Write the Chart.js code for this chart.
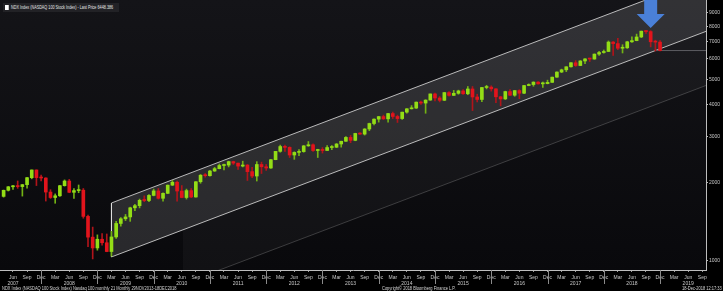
<!DOCTYPE html>
<html>
<head>
<meta charset="utf-8">
<script src="https://cdn.jsdelivr.net/npm/chart.js@4.4.1/dist/chart.umd.min.js"></script>
<style>
html, body { margin: 0; padding: 0; background: #000; }
#wrap { position: relative; width: 723px; height: 291px; overflow: hidden; font-family: "Liberation Sans Narrow", "Liberation Sans", Arial, sans-serif; }
#title { position: absolute; left: 3px; top: 3px; height: 9px; width: 116px; background: #222226; }
#title span { position: absolute; left: 2px; top: 0; color: #e6e6e6; font-size: 5px; line-height: 9px; white-space: nowrap; transform: scaleX(0.75); transform-origin: 0 0; }
#title i { display: inline-block; width: 5px; height: 5px; background: #fff; margin-right: 3px; vertical-align: -1px; }
.foot { position: absolute; top: 285px; color: #d8d8d8; font-size: 5px; line-height: 6px; white-space: nowrap; transform: scaleX(0.8); transform-origin: 0 0; }
</style>
</head>
<body>
<div id="wrap">
  <canvas id="chart" width="723" height="291"></canvas>
  <div id="title"><span><i></i>NDX Index (NASDAQ 100 Stock Index) - Last Price 6448.386</span></div>
  <div class="foot" style="left:2px">NDX Index (NASDAQ 100 Stock Index) Nasdaq 100.monthly 21 Monthly 29NOV2013-18DEC2018</div>
  <div class="foot" style="left:382px">Copyright&copy; 2018 Bloomberg Finance L.P.</div>
  <div class="foot" style="left:682px">18-Dec-2018 12:17:33</div>
</div>
<script>
// monthly candles, Apr 2007 .. Dec 2018 (x = 0 is Jun 2007)
var firstMonth = -2;
var opens = [1772,1870,1929,1934,1932,1966,2091,2239,2092,
  2085,1841,1754,1781,1948,2030,1837,1865,1872,1484,1235,1122,
  1212,1175,1087,1237,1394,1453,1477,1601,1632,1711,1708,1787,
  1860,1742,1820,1957,2008,1858,1754,1865,1762,2017,2137,2128,
  2218,2265,2329,2338,2411,2379,2317,2339,2206,2122,2350,2303,
  2278,2452,2640,2755,2735,2556,2616,2634,2772,2799,2660,2677,
  2661,2731,2738,2818,2887,2987,2910,3094,3076,3218,3378,3512,
  3592,3521,3690,3596,3530,3736,3849,3873,4083,4050,4158,4391,
  4236,4150,4444,4334,4415,4509,4397,4588,4274,4181,4648,4665,
  4593,4280,4201,4484,4341,4523,4418,4730,4771,4875,4801,4811,
  4864,5094,5330,5436,5584,5788,5647,5880,5988,5980,6248,6337,
  6396,6950,6856,6582,6605,6967,7040,7272,7657,7628,6968,6949];
var highs = [1874,1935,1955,2031,1970,2097,2239,2240,2140,
  2090,1880,1811,1952,2050,2060,1900,1960,1900,1500,1350,1260,
  1275,1270,1300,1420,1470,1510,1610,1650,1730,1780,1800,1890,
  1900,1830,1960,2040,2030,1950,1890,1900,2020,2150,2170,2230,
  2290,2360,2360,2420,2420,2380,2420,2350,2290,2410,2400,2350,
  2460,2640,2790,2790,2750,2630,2680,2780,2880,2820,2690,2730,
  2780,2780,2830,2890,3010,3040,3100,3120,3230,3390,3520,3600,
  3640,3700,3740,3640,3740,3860,3960,4090,4120,4170,4390,4420,
  4290,4450,4480,4530,4540,4560,4690,4690,4380,4650,4740,4720,
  4600,4300,4500,4560,4530,4560,4740,4800,4890,4900,4880,4960,
  5100,5340,5470,5590,5800,5900,5900,6000,6030,6260,6400,6480,
  7020,7000,7190,6790,7000,7280,7460,7660,7700,7690,7070,7050];
var lows = [1760,1858,1886,1903,1776,1905,2070,1950,2030,
  1700,1740,1667,1770,1940,1830,1740,1830,1460,1136,1018,1100,
  1150,1085,1043,1220,1360,1430,1420,1560,1600,1690,1690,1780,
  1730,1700,1815,1950,1700,1750,1730,1750,1760,1990,2100,2120,
  2210,2260,2240,2300,2350,2250,2300,2040,2090,2030,2170,2230,
  2270,2450,2620,2640,2500,2460,2540,2620,2760,2640,2500,2600,
  2660,2680,2730,2740,2880,2850,2900,3070,3050,3170,3340,3420,
  3500,3420,3530,3410,3500,3700,3840,3860,4000,3700,4150,4130,
  4090,4140,4300,4330,4380,4370,4360,3790,4090,4100,4590,4500,
  4060,3950,4180,4320,4300,4210,4400,4720,4700,4790,4650,4800,
  4860,5080,5300,5350,5560,5600,5640,5740,5850,5970,6180,6300,
  6390,6170,6500,6310,6570,6930,7030,7230,7510,6660,6420,6420];
var closes = [1870,1929,1934,1932,1966,2091,2239,2092,2085,
  1841,1754,1781,1948,2030,1837,1865,1872,1484,1235,1122,1212,
  1175,1087,1237,1394,1453,1477,1601,1632,1711,1708,1787,1860,
  1742,1820,1957,2008,1858,1754,1865,1762,2017,2137,2128,2218,
  2265,2329,2338,2411,2379,2317,2339,2206,2122,2350,2303,2278,
  2452,2640,2755,2735,2556,2616,2634,2772,2799,2660,2677,2661,
  2731,2738,2818,2887,2987,2910,3094,3076,3218,3378,3512,3592,
  3521,3690,3596,3530,3736,3849,3873,4083,4050,4158,4391,4236,
  4150,4444,4334,4415,4509,4397,4588,4274,4181,4648,4665,4593,
  4280,4201,4484,4341,4523,4418,4730,4771,4875,4801,4811,4864,
  5094,5330,5436,5584,5788,5647,5880,5988,5980,6248,6337,6396,
  6950,6856,6582,6605,6967,7040,7272,7657,7628,6968,6949,6448];

// trend channel (month x, value), drawn on the log scale
var channelTop = [[21, 1671], [148, 12400]];
var channelBottom = [[21, 1036], [148, 7667]];
var channelThird = [[21, 642], [148, 4747]];
var shadeFrom = 36.25;
var lastPrice = 6448.386;
var lastPriceFrom = 137;
var arrowMonth = 136;
var arrowTip = 7870;

var quarterNames = ['Jun', 'Sep', 'Dec', 'Mar'];
var yearLabels = ['2007','2008','2009','2010','2011','2012','2013','2014','2015','2016','2017','2018','2019'];
var xTicks = [];
for (var t = 0; t <= 147; t += 3) xTicks.push(t);
var yTicks = [1000, 2000, 3000, 4000, 5000, 6000, 7000, 8000, 9000];

var GREEN = '#93dd16', RED = '#e2141c';
var FONT = '"Liberation Sans Narrow", "Liberation Sans", sans-serif';
var isUp = closes.map(function (c, i) { return c >= opens[i]; });

function onLine(line, x) { // log-linear point on a channel line
  var a = line[0], b = line[1];
  var f = (x - a[0]) / (b[0] - a[0]);
  return Math.pow(10, Math.log10(a[1]) + f * (Math.log10(b[1]) - Math.log10(a[1])));
}
function pts(line) { return line.map(function (p) { return {x: p[0], y: p[1]}; }); }

var bgPlugin = {
  id: 'bg',
  beforeDraw: function (chart) {
    var c = chart.ctx, a = chart.chartArea;
    c.save();
    c.fillStyle = '#000';
    c.fillRect(0, 0, chart.width, chart.height);
    var g = c.createLinearGradient(0, a.top, 0, a.bottom);
    g.addColorStop(0, '#141418');
    g.addColorStop(1, '#09090c');
    c.fillStyle = g;
    c.fillRect(a.left, a.top, a.right - a.left, a.bottom - a.top);
    c.restore();
  },
  afterDraw: function (chart) { // year separators under the Dec ticks
    var c = chart.ctx, xs = chart.scales.x, b = chart.chartArea.bottom;
    c.save();
    c.strokeStyle = '#8a8a8a';
    c.lineWidth = 1;
    xTicks.forEach(function (v) {
      if (Math.round(v / 3) % 4 !== 2) return;
      var x = Math.round(xs.getPixelForValue(v)) + 0.5;
      c.beginPath();
      c.moveTo(x, b);
      c.lineTo(x, b + 14);
      c.stroke();
    });
    c.restore();
  }
};

var arrowPlugin = {
  id: 'arrow',
  afterDatasetsDraw: function (chart) {
    var c = chart.ctx, xs = chart.scales.x, ys = chart.scales.y;
    var x = xs.getPixelForValue(arrowMonth);
    var tip = ys.getPixelForValue(arrowTip);
    var top = chart.chartArea.top;
    var neck = tip - 14;
    c.save();
    c.fillStyle = '#4a80d8';
    c.beginPath();
    c.moveTo(x - 6.5, top);
    c.lineTo(x + 6.5, top);
    c.lineTo(x + 6.5, neck);
    c.lineTo(x + 14, neck);
    c.lineTo(x, tip);
    c.lineTo(x - 14, neck);
    c.lineTo(x - 6.5, neck);
    c.closePath();
    c.fill();
    c.restore();
  }
};

var ctx = document.getElementById('chart');
new Chart(ctx, {
  data: {
    datasets: [
      {
        type: 'line', data: pts(channelTop), fill: '+1',
        backgroundColor: 'rgba(255,255,255,0.13)', borderColor: 'rgba(225,225,225,0.8)',
        borderWidth: 1, pointRadius: 0, order: 5
      },
      {
        type: 'line', data: pts(channelBottom), fill: false,
        borderColor: 'rgba(225,225,225,0.8)', borderWidth: 1, pointRadius: 0, order: 5
      },
      {
        type: 'line', data: [{x: shadeFrom, y: onLine(channelBottom, shadeFrom)}, {x: 148, y: channelBottom[1][1]}],
        fill: '+1', backgroundColor: 'rgba(255,255,255,0.035)', borderWidth: 0, pointRadius: 0, order: 6
      },
      {
        type: 'line', data: [{x: shadeFrom, y: onLine(channelThird, shadeFrom)}, {x: 148, y: channelThird[1][1]}],
        fill: false, borderColor: 'rgba(200,200,200,0.25)', borderWidth: 1, pointRadius: 0, order: 6
      },
      {
        type: 'line', data: [{x: channelTop[0][0], y: channelTop[0][1]}, {x: channelBottom[0][0], y: channelBottom[0][1]}],
        fill: false, borderColor: 'rgba(225,225,225,0.8)', borderWidth: 1, pointRadius: 0, order: 5
      },
      {
        type: 'line', data: [{x: lastPriceFrom, y: lastPrice}, {x: 148, y: lastPrice}],
        fill: false, borderColor: '#5c5c60', borderWidth: 1, pointRadius: 0, order: 4
      },
      {
        type: 'bar', label: 'wick', grouped: false, barThickness: 1, order: 2,
        data: closes.map(function (c, i) { return {x: firstMonth + i, y: [lows[i], highs[i]]}; }),
        backgroundColor: isUp.map(function (u) { return u ? '#72b214' : '#b0141a'; })
      },
      {
        type: 'bar', label: 'body', grouped: false, barThickness: 3, minBarLength: 1, order: 1,
        data: closes.map(function (c, i) { return {x: firstMonth + i, y: [opens[i], c]}; }),
        backgroundColor: isUp.map(function (u) { return u ? GREEN : RED; })
      }
    ]
  },
  options: {
    responsive: false,
    animation: false,
    devicePixelRatio: 1,
    layout: { padding: 0 },
    plugins: { legend: { display: false }, tooltip: { enabled: false } },
    scales: {
      x: {
        type: 'linear', min: -2.77, max: 147.8, offset: false,
        afterBuildTicks: function (s) { s.ticks = xTicks.map(function (v) { return {value: v}; }); },
        afterFit: function (s) { s.height = 21; s.paddingLeft = 0; s.paddingRight = 0; },
        ticks: {
          autoSkip: false, maxRotation: 0, padding: 2, color: '#c8c8c8',
          font: { size: 5, family: FONT, lineHeight: 1.25 },
          callback: function (v) {
            var q = Math.round(v / 3);
            var name = quarterNames[q % 4];
            if (q % 4 === 0) return [name, yearLabels[q / 4]];
            return name;
          }
        },
        grid: { drawOnChartArea: false, offset: false, color: '#9a9a9a', tickLength: 2 },
        border: { color: '#bdbdbd', width: 1 }
      },
      y: {
        type: 'logarithmic', position: 'right', min: 923, max: 10090,
        afterBuildTicks: function (s) { s.ticks = yTicks.map(function (v) { return {value: v}; }); },
        afterFit: function (s) { s.width = 17; s.paddingTop = 0; s.paddingBottom = 0; },
        ticks: { padding: 1, color: '#c8c8c8', font: { size: 5, family: FONT },
          callback: function (v) { return String(v); } },
        grid: { drawOnChartArea: false, color: '#bdbdbd', tickLength: 2 },
        border: { color: '#bdbdbd', width: 1 }
      }
    }
  },
  plugins: [bgPlugin, arrowPlugin]
});
</script>
</body>
</html>
